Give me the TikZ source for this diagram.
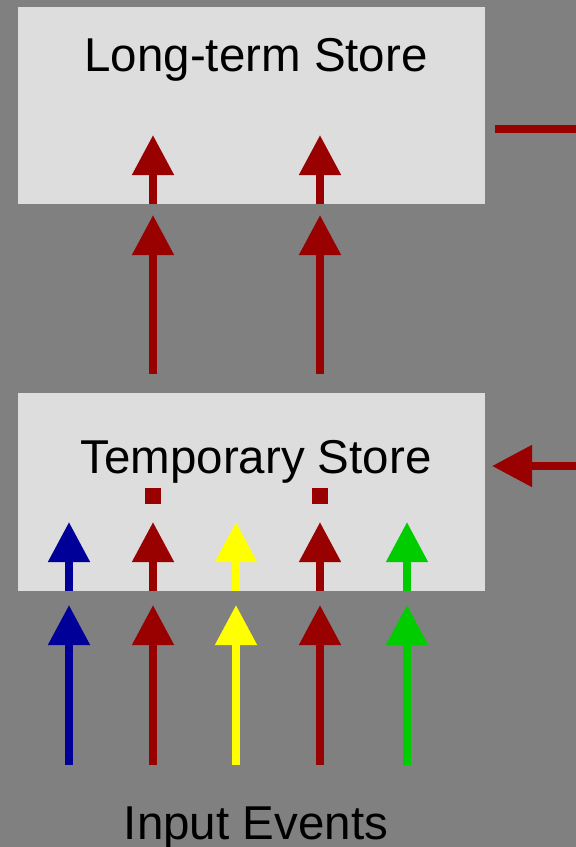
\documentclass[tikz,border=0pt]{standalone}
\usepackage{fontspec}
\setmainfont{Liberation Sans}
\usetikzlibrary{arrows.meta}
\definecolor{bgcol}{HTML}{808080}
\definecolor{boxcol}{HTML}{DDDDDD}
\definecolor{dred}{HTML}{990000}
\definecolor{dblue}{HTML}{000099}
\definecolor{ylw}{HTML}{FFFF00}
\definecolor{grn}{HTML}{00CC00}
\begin{document}
\begin{tikzpicture}[x=1pt,y=-1pt,
  store/.style={fill=boxcol, draw=none, inner sep=0pt, minimum width=467pt},
  lbl/.style={font=\fontsize{47.5}{56}\selectfont, text=black, inner sep=0pt, anchor=base},
  arr/.style={line width=8pt, -{Triangle[width=40pt,length=40pt]}},
  sq/.style={fill=dred, draw=none, inner sep=0pt, minimum size=16pt}]
\fill[bgcol] (0,0) rectangle (576,847);
\useasboundingbox (0,0) rectangle (576,847);
% boxes
\node[store, minimum height=197pt] (lts) at (251.5,105.5) {};
\node[store, minimum height=198pt] (tmp) at (251.5,492) {};
% labels
\node[lbl] (ltslbl) at (256,71) {Long-term Store};
\node[lbl] (tmplbl) at (256,473) {Temporary Store};
\node[lbl] (inlbl) at (256,839) {Input Events};
% coordinates
\foreach \n/\x in {a/69,b/153,c/236,d/320,e/407}{
  \coordinate (in\n) at (\x,765);
  \coordinate (it\n) at (\x,605);
  \coordinate (tb\n) at (\x,591);
  \coordinate (tt\n) at (\x,522);
}
\foreach \n/\x in {b/153,d/320}{
  \coordinate (mb\n) at (\x,374);
  \coordinate (mt\n) at (\x,215);
  \coordinate (lb\n) at (\x,204);
  \coordinate (lt\n) at (\x,135);
  \node[sq] (sq\n) at (\x,496) {};
}
% input arrows
\draw[arr, dblue] (ina) -- (ita);
\draw[arr, dred] (inb) -- (itb);
\draw[arr, ylw] (inc) -- (itc);
\draw[arr, dred] (ind) -- (itd);
\draw[arr, grn] (ine) -- (ite);
% arrows inside temporary store
\draw[arr, dblue] (tba) -- (tta);
\draw[arr, dred] (tbb) -- (ttb);
\draw[arr, ylw] (tbc) -- (ttc);
\draw[arr, dred] (tbd) -- (ttd);
\draw[arr, grn] (tbe) -- (tte);
% arrows between stores
\draw[arr, dred] (mbb) -- (mtb);
\draw[arr, dred] (mbd) -- (mtd);
% arrows inside long-term store
\draw[arr, dred] (lbb) -- (ltb);
\draw[arr, dred] (lbd) -- (ltd);
% right side
\coordinate (rl1) at (495,129);
\coordinate (rl2) at (576,129);
\draw[dred, line width=8pt] (rl1) -- (rl2);
\coordinate (ra1) at (576,466);
\coordinate (ra2) at (492,466);
\draw[arr, dred] (ra1) -- (ra2);
\end{tikzpicture}
\end{document}
